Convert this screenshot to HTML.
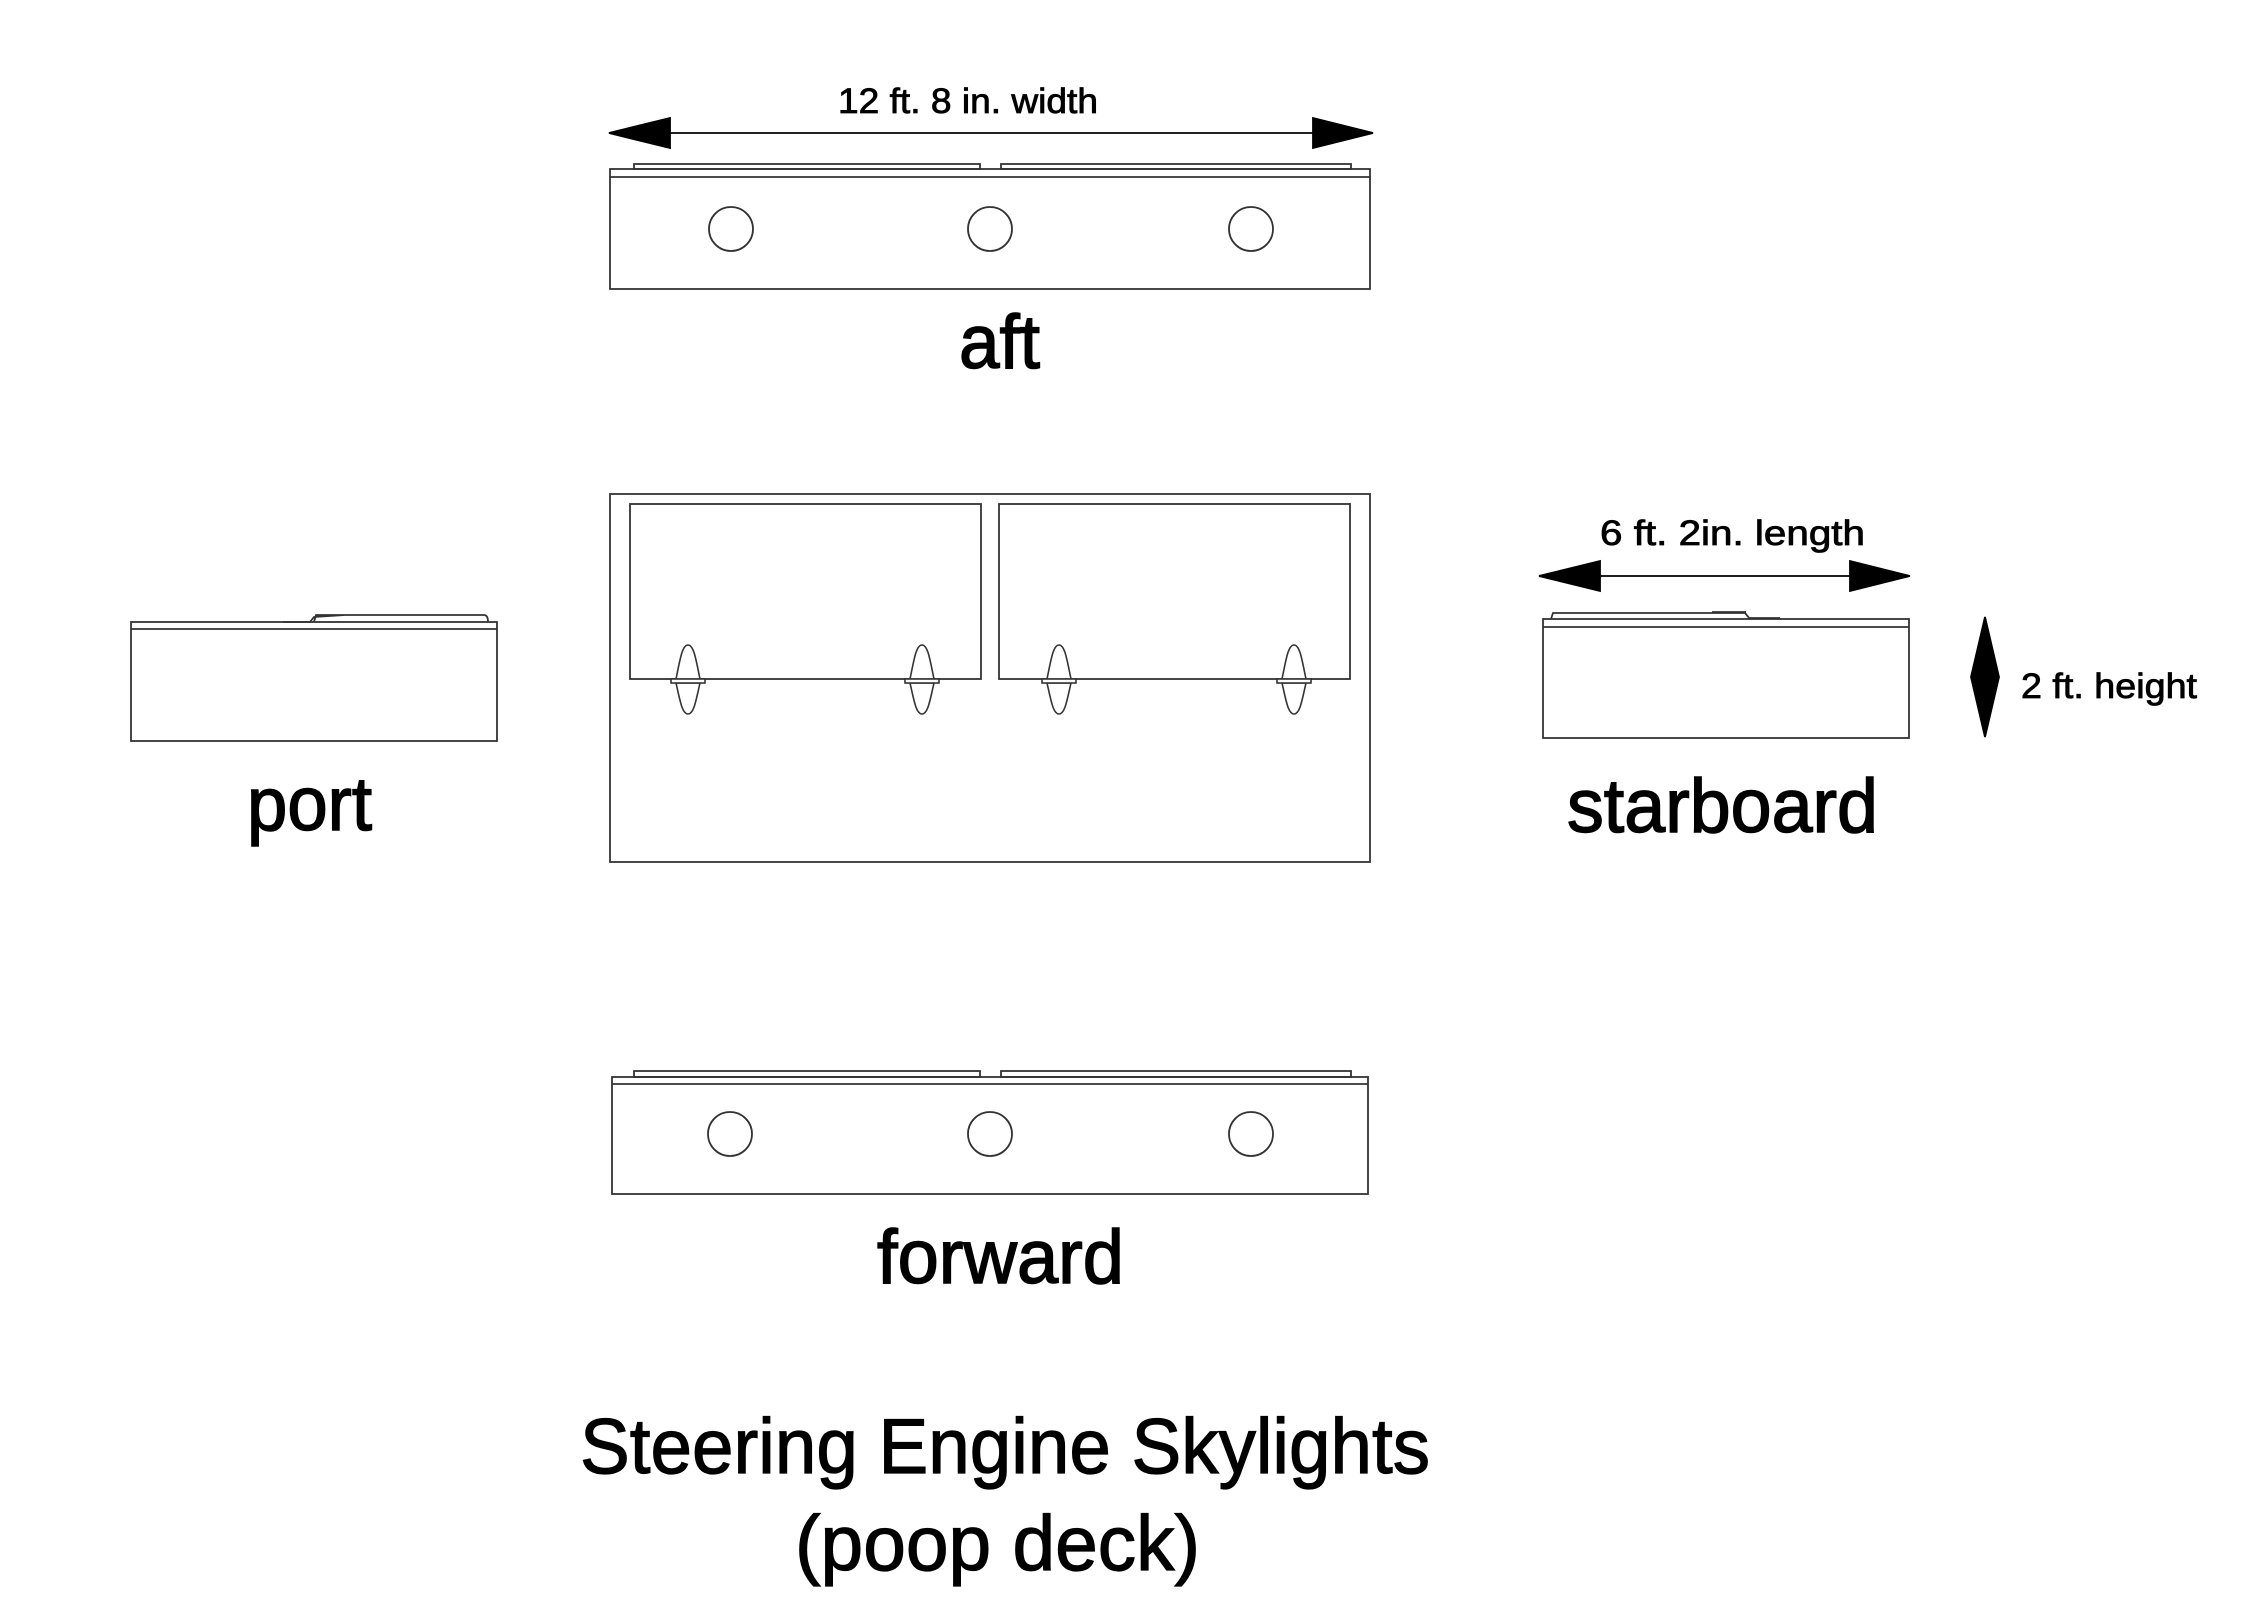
<!DOCTYPE html>
<html><head><meta charset="utf-8"><style>html,body{margin:0;padding:0;background:#fff}svg{display:block}</style></head>
<body>
<svg width="2264" height="1600" viewBox="0 0 2264 1600" xmlns="http://www.w3.org/2000/svg" font-family="Liberation Sans, Arial, sans-serif">
<g fill="none" stroke="#333" stroke-width="1.8">
<!-- aft -->
<rect x="634" y="164" width="346" height="5"/>
<rect x="1001" y="164" width="350" height="5"/>
<rect x="610" y="169" width="760" height="120"/>
<line x1="610" y1="177" x2="1370" y2="177"/>
<ellipse cx="731" cy="229" rx="22" ry="22"/>
<ellipse cx="990" cy="229" rx="22" ry="22"/>
<ellipse cx="1251" cy="229" rx="22" ry="22"/>
<!-- center -->
<rect x="610" y="494" width="760" height="368"/>
<rect x="630" y="504" width="351" height="175"/>
<rect x="999" y="504" width="351" height="175"/>
<!-- forward -->
<rect x="634" y="1071" width="346" height="6"/>
<rect x="1001" y="1071" width="350" height="6"/>
<rect x="612" y="1077" width="756" height="117"/>
<line x1="612" y1="1084" x2="1368" y2="1084"/>
<ellipse cx="730" cy="1134" rx="22" ry="22"/>
<ellipse cx="990" cy="1134" rx="22" ry="22"/>
<ellipse cx="1251" cy="1134" rx="22" ry="22"/>
<!-- port -->
<rect x="131" y="622" width="366" height="119"/>
<line x1="131" y1="629" x2="497" y2="629"/>
<path d="M283 622 L310 622 L314 617 L345 615 M314 622 L316 615 L484 615 Q488 615 488 622"/>
<!-- starboard -->
<rect x="1543" y="619" width="366" height="119"/>
<line x1="1543" y1="627" x2="1909" y2="627"/>
<path d="M1551 619 L1553 613 L1715 613 L1745 613 L1750 619 M1712 612 L1746 612 M1750 618 L1780 618"/>
</g>
<!-- hinges -->
<g fill="#fff" stroke="#333" stroke-width="1.6">
<path d="M688 645 C682 645 680 660 676 679 L700 679 C696 660 694 645 688 645Z M676 683 C680 700 682 714 688 714 C694 714 696 700 700 683Z"/>
<rect x="671" y="679" width="34" height="4"/>
<path d="M922 645 C916 645 914 660 910 679 L934 679 C930 660 928 645 922 645Z M910 683 C914 700 916 714 922 714 C928 714 930 700 934 683Z"/>
<rect x="905" y="679" width="34" height="4"/>
<path d="M1059 645 C1053 645 1051 660 1047 679 L1071 679 C1067 660 1065 645 1059 645Z M1047 683 C1051 700 1053 714 1059 714 C1065 714 1067 700 1071 683Z"/>
<rect x="1042" y="679" width="34" height="4"/>
<path d="M1294 645 C1288 645 1286 660 1282 679 L1306 679 C1302 660 1300 645 1294 645Z M1282 683 C1286 700 1288 714 1294 714 C1300 714 1302 700 1306 683Z"/>
<rect x="1277" y="679" width="34" height="4"/>
</g>
<!-- arrows -->
<g fill="#000" stroke="#000" stroke-width="1.8">
<line x1="660" y1="133" x2="1330" y2="133"/>
<polygon points="609,133 670,118 670,148"/>
<polygon points="1373,133 1313,118 1313,148"/>
<line x1="1600" y1="576" x2="1860" y2="576"/>
<polygon points="1539,576 1600,561 1600,591"/>
<polygon points="1910,576 1850,561 1850,591"/>
<polygon points="1985,617 1999,677 1985,737 1971,677"/>
</g>
<g fill="#000" stroke="#000" stroke-width="0.8">
<text x="838" y="113" font-size="35" textLength="260" lengthAdjust="spacingAndGlyphs">12 ft. 8 in. width</text>
<text x="959" y="368" font-size="76" textLength="81" lengthAdjust="spacingAndGlyphs" stroke-width="1.5">aft</text>
<text x="1600" y="545" font-size="35" textLength="265" lengthAdjust="spacingAndGlyphs">6 ft. 2in. length</text>
<text x="2021" y="698" font-size="35" textLength="176" lengthAdjust="spacingAndGlyphs">2 ft. height</text>
<text x="247" y="830" font-size="76" textLength="125" lengthAdjust="spacingAndGlyphs" stroke-width="1.5">port</text>
<text x="1567" y="832" font-size="76" textLength="311" lengthAdjust="spacingAndGlyphs" stroke-width="1.5">starboard</text>
<text x="877" y="1283" font-size="76" textLength="247" lengthAdjust="spacingAndGlyphs" stroke-width="1.5">forward</text>
<text x="580" y="1473" font-size="78" textLength="850" lengthAdjust="spacingAndGlyphs" stroke-width="1.2">Steering Engine Skylights</text>
<text x="795" y="1570" font-size="78" textLength="405" lengthAdjust="spacingAndGlyphs" stroke-width="1.2">(poop deck)</text>
</g>
</svg>
</body></html>
